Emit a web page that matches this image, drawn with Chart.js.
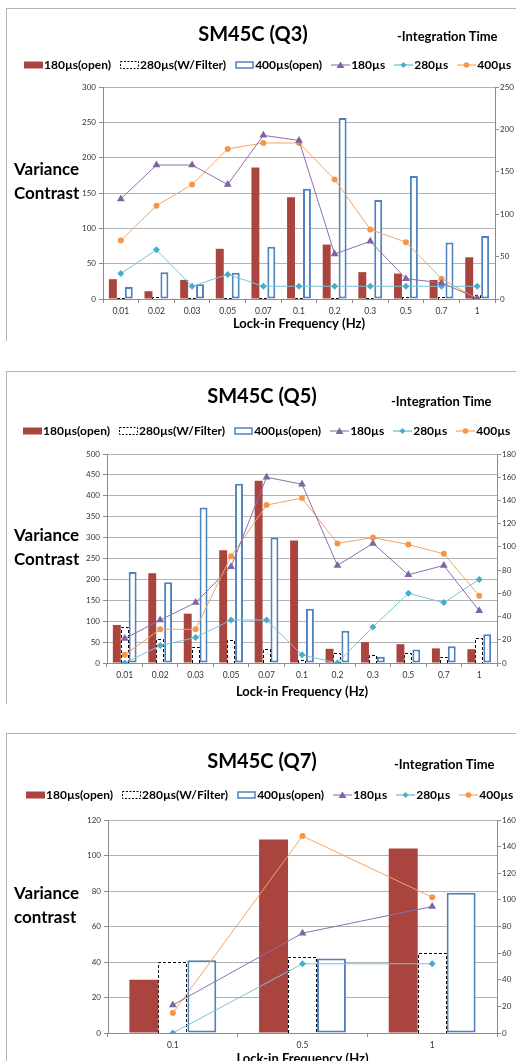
<!DOCTYPE html>
<html>
<head>
<meta charset="utf-8">
<script src="https://cdn.jsdelivr.net/npm/chart.js@4/dist/chart.umd.min.js"></script>
<style>
  body { margin: 0; width: 516px; height: 1061px; overflow: hidden; background: #fff; position: relative; font-family: Lato, "Open Sans", sans-serif; }
  .frame { position: absolute; left: 6px; width: 600px; border-top: 1px solid #b4b4b4; border-left: 1px solid #b4b4b4; }
  canvas { position: absolute; left: 0; }
  .title { position: absolute; transform: translateX(-50%); font-size: 20px; font-weight: bold; line-height: 24px; white-space: nowrap; color: #000; }
  .sub { position: absolute; font-size: 13px; font-weight: bold; line-height: 16px; white-space: nowrap; color: #000; }
  .ylab { position: absolute; left: 14px; font-size: 17px; font-weight: bold; line-height: 24px; color: #000; }
  .legend { position: absolute; display: flex; align-items: center; gap: 9px; font-size: 12px; font-weight: bold; line-height: 14px; white-space: nowrap; color: #000; }
  .legend span { display: flex; align-items: center; gap: 1px; }
  .legend svg { display: block; }
</style>
</head>
<body>
<div class="frame" style="top:8px;height:332px"></div>
<div class="frame" style="top:371px;height:332px"></div>
<div class="frame" style="top:733px;height:340px"></div>

<canvas id="q3" width="540" height="332" style="top:8px"></canvas>
<canvas id="q5" width="540" height="332" style="top:371px"></canvas>
<canvas id="q7" width="540" height="340" style="top:733px"></canvas>

<div class="title" style="left:253px;top:21px">SM45C (Q3)</div>
<div class="sub" style="left:397px;top:28px">-Integration Time</div>
<div class="legend" id="leg3" style="left:24px;top:58px"></div>
<div class="ylab" style="top:157px">Variance<br>Contrast</div>

<div class="title" style="left:262px;top:383px">SM45C (Q5)</div>
<div class="sub" style="left:391px;top:393px">-Integration Time</div>
<div class="legend" id="leg5" style="left:23px;top:424px"></div>
<div class="ylab" style="top:523px">Variance<br>Contrast</div>

<div class="title" style="left:262px;top:748px">SM45C (Q7)</div>
<div class="sub" style="left:394px;top:756px">-Integration Time</div>
<div class="legend" id="leg7" style="left:26px;top:788px"></div>
<div class="ylab" style="top:881px">Variance<br>contrast</div>

<script>
/* ---------- DATA ---------- */
const freqAll = ['0.01', '0.02', '0.03', '0.05', '0.07', '0.1', '0.2', '0.3', '0.5', '0.7', '1'];
const freqQ7 = ['0.1', '0.5', '1'];

// Q3 - bars on left axis, lines on right axis
const q3Bar180 = [28, 11, 27, 71, 186, 144, 77, 38, 36, 27, 59];
const q3Bar280 = [2, 3, 1, 2, 1, 1, 1, 2, 3, 3, 5];
const q3Bar400 = [17, 38, 21, 37, 74, 156, 256, 140, 174, 80, 89];
const q3Line180 = [118, 158, 158, 135, 193, 187, 53, 68, 24, 19, 1];
const q3Line280 = [30, 58, 15, 29, 15, 15, 15, 15, 15, 15, 15];
const q3Line400 = [69, 110, 135, 177, 184, 184, 141, 82, 67, 24, 0];

// Q5
const q5Bar180 = [91, 215, 118, 270, 436, 293, 34, 50, 45, 35, 33];
const q5Bar280 = [87, 58, 39, 55, 34, 6, 25, 19, 25, 14, 60];
const q5Bar400 = [218, 193, 372, 429, 300, 130, 77, 15, 32, 40, 69];
const q5Line180 = [21, 37, 52, 83, 160, 154, 84, 103, 76, 84, 45];
const q5Line280 = [0, 15, 22, 37, 37, 7, 0, 31, 60, 52, 72];
const q5Line400 = [7, 29, 29, 92, 136, 142, 103, 108, 102, 94, 58];

// Q7
const q7Bar180 = [30, 109, 104];
const q7Bar280 = [40, 43, 45];
const q7Bar400 = [41, 42, 79];
const q7Line180 = [21, 75, 95];
const q7Line280 = [0, 52, 52];
const q7Line400 = [15, 148, 102];

// axis ranges [max, step]
const q3LeftAxis = [300, 50], q3RightAxis = [250, 50];
const q5LeftAxis = [500, 50], q5RightAxis = [180, 20];
const q7LeftAxis = [120, 20], q7RightAxis = [160, 20];

/* ---------- STYLE ---------- */
const RED = '#a9443f', BLUE = '#4f81bd', PURPLE = '#8064a2', TEAL = '#4bacc6', ORANGE = '#f79646';
const GRID = '#b3b3b3', AXIS = '#8c8c8c', TICK = '#333';
const FONT = 'Lato, "Open Sans", sans-serif';
const CANVAS_W = 540;

/* ---------- LEGEND (html) ---------- */
const LEGEND = [
  { label: '180µs(open)', kind: 'fill', color: RED },
  { label: '280µs(W/Filter)', kind: 'dash', color: '#000' },
  { label: '400µs(open)', kind: 'outline', color: BLUE },
  { label: '180µs', kind: 'triangle', color: PURPLE },
  { label: '280µs', kind: 'diamond', color: TEAL },
  { label: '400µs', kind: 'circle', color: ORANGE },
];

function swatch(item) {
  let inner = '';
  if (item.kind === 'fill') inner = `<rect x="0" y="0.5" width="19" height="7" fill="${item.color}"/>`;
  else if (item.kind === 'dash') inner = `<rect x="0.5" y="0.5" width="18" height="7" fill="#fff" stroke="#000" stroke-dasharray="2,1.5"/>`;
  else if (item.kind === 'outline') inner = `<rect x="1" y="1" width="17" height="6" fill="#fff" stroke="${item.color}" stroke-width="1.5"/>`;
  else {
    inner = `<line x1="0" y1="4" x2="19" y2="4" stroke="${item.color}" stroke-width="1"/>`;
    if (item.kind === 'triangle') inner += `<polygon points="9.5,0.5 13.5,7 5.5,7" fill="${item.color}"/>`;
    if (item.kind === 'diamond') inner += `<polygon points="9.5,1 12.5,4 9.5,7 6.5,4" fill="${item.color}"/>`;
    if (item.kind === 'circle') inner += `<circle cx="9.5" cy="4" r="2.8" fill="${item.color}"/>`;
  }
  return `<svg width="19" height="8">${inner}</svg>`;
}

function renderLegend(id) {
  document.getElementById(id).innerHTML = LEGEND.map(item =>
    `<span>${swatch(item)}${item.label}</span>`
  ).join('');
}

/* ---------- DASHED BAR OUTLINE (bars can't do borderDash) ---------- */
const dashedBars = {
  id: 'dashedBars',
  afterDatasetDraw(chart, args) {
    const ds = chart.data.datasets[args.index];
    if (!ds.dashed) return;
    const ctx = chart.ctx;
    ctx.save();
    ctx.strokeStyle = '#000';
    ctx.lineWidth = 1;
    ctx.setLineDash([3, 2]);
    args.meta.data.forEach(bar => {
      const { x, y, base, width } = bar.getProps(['x', 'y', 'base', 'width'], true);
      const left = Math.round(x - width / 2) + 0.5;
      const right = Math.round(x + width / 2) - 0.5;
      const top = Math.round(y) + 0.5;
      const bottom = Math.round(base);
      ctx.beginPath();
      ctx.moveTo(left, bottom);
      ctx.lineTo(left, top);
      ctx.lineTo(right, top);
      ctx.lineTo(right, bottom);
      ctx.stroke();
    });
    ctx.restore();
  }
};

/* ---------- CHART BUILDER ---------- */
// line drawn a bit lighter than its markers, like the thin excel lines
function lineSet(label, data, color, lineColor, style, radius) {
  return {
    type: 'line', label, data, yAxisID: 'y1', order: 0,
    borderColor: lineColor, borderWidth: 1, tension: 0,
    pointStyle: style, pointRadius: radius, pointBorderWidth: 0,
    pointBackgroundColor: color, pointBorderColor: color
  };
}

function barSet(label, data, extra) {
  return Object.assign({
    type: 'bar', label, data, yAxisID: 'y', order: 1,
    categoryPercentage: 0.67, barPercentage: 1, borderWidth: 0
  }, extra);
}

function buildChart(id, labels, bars, lines, leftAxis, rightAxis, box) {
  return new Chart(document.getElementById(id), {
    type: 'bar',
    data: {
      labels,
      datasets: [
        lineSet('180µs', lines[0], PURPLE, '#8a70ad', 'triangle', 4.5),
        lineSet('280µs', lines[1], TEAL, '#7cc4d6', 'rectRot', 3.5),
        lineSet('400µs', lines[2], ORANGE, '#f5a463', 'circle', 3),
        barSet('180µs(open)', bars[0], { backgroundColor: RED }),
        barSet('280µs(W/Filter)', bars[1], { backgroundColor: '#fff', dashed: true }),
        barSet('400µs(open)', bars[2], { backgroundColor: '#fff', borderColor: BLUE, borderWidth: 2, borderSkipped: false })
      ]
    },
    options: {
      responsive: false,
      animation: false,
      layout: { padding: { top: box.top, left: 0, right: 0, bottom: 0 } },
      plugins: { legend: { display: false }, tooltip: { enabled: false } },
      scales: {
        x: {
          offset: true,
          grid: { offset: true, drawOnChartArea: false, tickLength: 4, color: AXIS },
          border: { color: AXIS },
          ticks: { font: { size: 8.5, family: FONT }, color: TICK, padding: 3, maxRotation: 0, autoSkip: false },
          title: {
            display: true, text: 'Lock-in Frequency (Hz)', color: '#000',
            font: { size: 13, weight: 'bold', family: FONT }, padding: { top: 0, bottom: box.titlePad }
          },
          afterFit: s => { s.height = box.xHeight; }
        },
        y: {
          position: 'left', min: 0, max: leftAxis[0],
          ticks: { stepSize: leftAxis[1], font: { size: 8, family: FONT }, color: TICK, padding: 3 },
          grid: { color: GRID, tickColor: AXIS, tickLength: 4 },
          border: { color: AXIS },
          afterFit: s => { s.width = box.left; }
        },
        y1: {
          position: 'right', min: 0, max: rightAxis[0],
          ticks: { stepSize: rightAxis[1], font: { size: 8, family: FONT }, color: TICK, padding: 1 },
          grid: { drawOnChartArea: false, color: AXIS, tickLength: 4 },
          border: { color: AXIS },
          afterFit: s => { s.width = CANVAS_W - box.right; }
        }
      }
    },
    plugins: [dashedBars]
  });
}

/* ---------- INIT ---------- */
renderLegend('leg3');
renderLegend('leg5');
renderLegend('leg7');

buildChart('q3', freqAll, [q3Bar180, q3Bar280, q3Bar400], [q3Line180, q3Line280, q3Line400],
  q3LeftAxis, q3RightAxis, { top: 79, left: 103, right: 495, xHeight: 41, titlePad: 8 });
buildChart('q5', freqAll, [q5Bar180, q5Bar280, q5Bar400], [q5Line180, q5Line280, q5Line400],
  q5LeftAxis, q5RightAxis, { top: 83, left: 107, right: 497, xHeight: 40, titlePad: 3 });
buildChart('q7', freqQ7, [q7Bar180, q7Bar280, q7Bar400], [q7Line180, q7Line280, q7Line400],
  q7LeftAxis, q7RightAxis, { top: 87, left: 108, right: 497, xHeight: 40, titlePad: 6 });
</script>
</body>
</html>
